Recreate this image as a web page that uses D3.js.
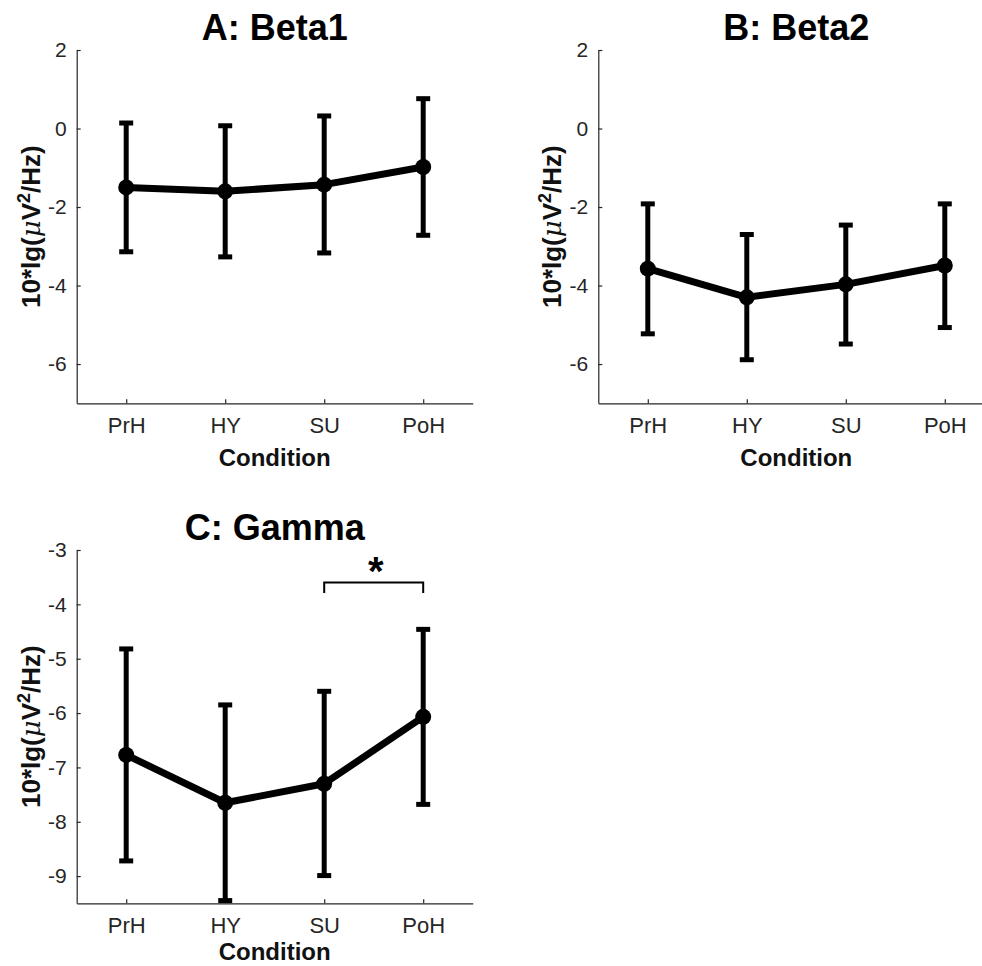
<!DOCTYPE html>
<html>
<head>
<meta charset="utf-8">
<script src="https://cdn.jsdelivr.net/npm/d3@7"></script>
<style>
  html, body { margin: 0; padding: 0; background: #fff; }
  svg { display: block; }
  text { font-family: Arial, "Liberation Sans", Helvetica, sans-serif; }
</style>
</head>
<body>
<div id="chart"></div>
<script>
// ---- Data ----
const categories = ["PrH", "HY", "SU", "PoH"];

const beta1Mean  = [-1.50, -1.60, -1.43, -0.98];
const beta1Upper = [ 0.14,  0.07,  0.32,  0.76];
const beta1Lower = [-3.14, -3.27, -3.17, -2.72];

const beta2Mean  = [-3.57, -4.30, -3.97, -3.49];
const beta2Upper = [-1.92, -2.70, -2.46, -1.92];
const beta2Lower = [-5.23, -5.89, -5.49, -5.07];

const gammaMean  = [-6.77, -7.65, -7.30, -6.07];
const gammaUpper = [-4.82, -5.85, -5.60, -4.46];
const gammaLower = [-8.72, -9.45, -8.99, -7.68];

const yTicksBeta  = [2, 0, -2, -4, -6];
const yTicksGamma = [-3, -4, -5, -6, -7, -8, -9];

const titles = ["A: Beta1", "B: Beta2", "C: Gamma"];
const xLabel = "Condition";

// significance bracket in panel C (between SU and PoH)
const sigPair = ["SU", "PoH"];
const sigLevel = -3.60;
const sigDrop = -3.79;
const sigMark = "*";

// ---- Layout ----
const W = 982, H = 966;
const svg = d3.select("#chart").append("svg")
  .attr("width", W).attr("height", H);

const panels = [
  { title: titles[0], mean: beta1Mean, up: beta1Upper, lo: beta1Lower,
    domain: [-7, 2], ticks: yTicksBeta, left: 76.7, top: 50 },
  { title: titles[1], mean: beta2Mean, up: beta2Upper, lo: beta2Lower,
    domain: [-7, 2], ticks: yTicksBeta, left: 598.3, top: 50 },
  { title: titles[2], mean: gammaMean, up: gammaUpper, lo: gammaLower,
    domain: [-9.5, -3], ticks: yTicksGamma, left: 76.7, top: 550, sig: true, xlabShift: -6 }
];
const pw = 396, ph = 353.3;
const axisColor = "#262626";

panels.forEach(p => {
  const g = svg.append("g").attr("transform", `translate(${p.left},${p.top})`);
  const x = d3.scalePoint().domain(categories).range([0, pw]).padding(0.5);
  const y = d3.scaleLinear().domain(p.domain).range([ph, 0]);

  // y axis
  const ya = g.append("g").call(d3.axisLeft(y).tickValues(p.ticks).tickSizeInner(-4).tickSizeOuter(0).tickPadding(10).tickFormat(d3.format("d")));
  ya.select(".domain").attr("stroke", axisColor).attr("stroke-width", 1.2);
  ya.selectAll(".tick line").attr("stroke", axisColor).attr("stroke-width", 1.2);
  ya.selectAll(".tick text").attr("fill", axisColor).attr("font-size", 21)
    .attr("font-family", "Arial, 'Liberation Sans', sans-serif")
    .text(d => d < 0 ? "-" + Math.abs(d) : d);

  // x axis
  const xa = g.append("g").attr("transform", `translate(0,${ph})`)
    .call(d3.axisBottom(x).tickSizeInner(-4).tickSizeOuter(0).tickPadding(14));
  xa.select(".domain").attr("stroke", axisColor).attr("stroke-width", 1.2);
  xa.selectAll(".tick line").attr("stroke", axisColor).attr("stroke-width", 1.2);
  xa.selectAll(".tick text").attr("fill", axisColor).attr("font-size", 22)
    .attr("font-family", "Arial, 'Liberation Sans', sans-serif")
    .attr("dy", "0.71em");

  // x label
  g.append("text").attr("x", pw / 2).attr("y", ph + 63 + (p.xlabShift || 0))
    .attr("text-anchor", "middle").attr("font-size", 24).attr("font-weight", "bold")
    .attr("fill", "#111").text(xLabel);

  // y label
  const yl = g.append("text")
    .attr("transform", `translate(-37,${ph / 2}) rotate(-90)`)
    .attr("text-anchor", "middle").attr("font-size", 26).attr("font-weight", "bold")
    .attr("fill", "#111");
  yl.append("tspan").text("10*lg(");
  yl.append("tspan").attr("font-style", "italic").attr("font-weight", "normal")
    .attr("font-family", "'DejaVu Serif', 'Liberation Serif', serif").text("\u03BC");
  yl.append("tspan").text("V");
  yl.append("tspan").attr("baseline-shift", "super").attr("font-size", 18).text("2");
  yl.append("tspan").text("/Hz)");

  // title
  g.append("text").attr("x", pw / 2).attr("y", -10)
    .attr("text-anchor", "middle").attr("font-size", 36).attr("font-weight", "bold")
    .attr("fill", "#000").text(p.title);

  const data = categories.map((c, i) => ({ c, m: p.mean[i], u: p.up[i], l: p.lo[i] }));

  // error bars
  const eb = g.append("g").attr("stroke", "#000").attr("stroke-width", 5);
  eb.selectAll("line.v").data(data).join("line").attr("class", "v")
    .attr("x1", d => x(d.c)).attr("x2", d => x(d.c))
    .attr("y1", d => y(d.u)).attr("y2", d => y(d.l));
  eb.selectAll("line.cu").data(data).join("line").attr("class", "cu")
    .attr("x1", d => x(d.c) - 7).attr("x2", d => x(d.c) + 7)
    .attr("y1", d => y(d.u)).attr("y2", d => y(d.u));
  eb.selectAll("line.cl").data(data).join("line").attr("class", "cl")
    .attr("x1", d => x(d.c) - 7).attr("x2", d => x(d.c) + 7)
    .attr("y1", d => y(d.l)).attr("y2", d => y(d.l));

  // mean line
  g.append("path").datum(data)
    .attr("fill", "none").attr("stroke", "#000").attr("stroke-width", 7)
    .attr("stroke-linejoin", "round")
    .attr("d", d3.line().x(d => x(d.c)).y(d => y(d.m)));
  g.selectAll("circle").data(data).join("circle")
    .attr("cx", d => x(d.c)).attr("cy", d => y(d.m)).attr("r", 8).attr("fill", "#000");

  if (p.sig) {
    const x1 = x(sigPair[0]), x2 = x(sigPair[1]);
    g.append("path")
      .attr("d", `M${x1},${y(sigDrop)}V${y(sigLevel)}H${x2}V${y(sigDrop)}`)
      .attr("fill", "none").attr("stroke", "#000").attr("stroke-width", 2);
    g.append("text").attr("x", (x1 + x2) / 2 + 2).attr("y", y(sigLevel) + 2)
      .attr("text-anchor", "middle").attr("font-size", 40).attr("font-weight", "bold")
      .attr("fill", "#000").text(sigMark);
  }
});
</script>
</body>
</html>
